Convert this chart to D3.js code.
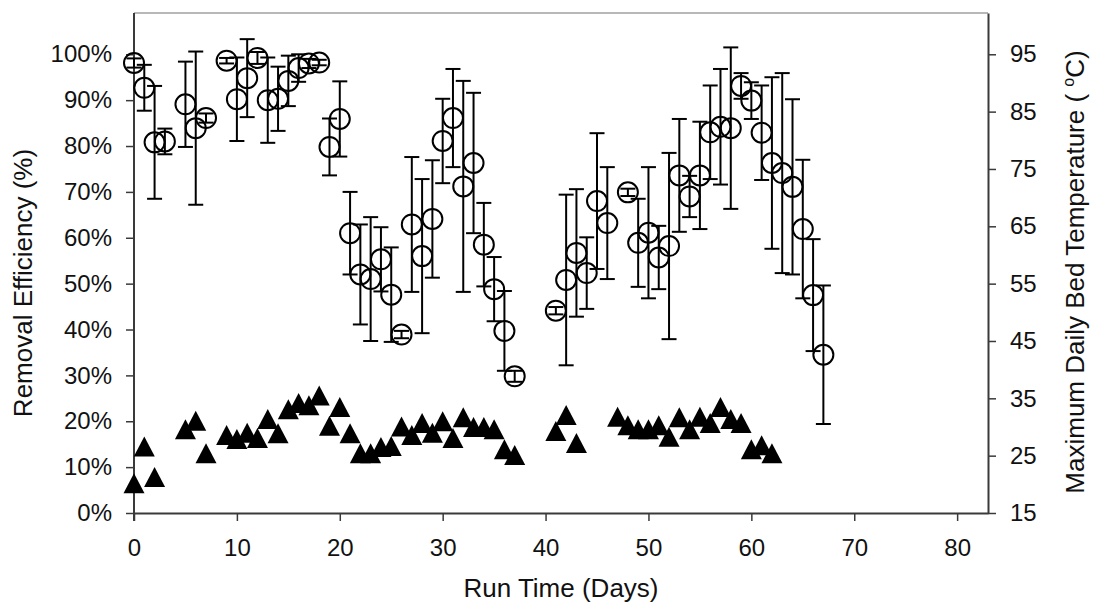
<!DOCTYPE html>
<html>
<head>
<meta charset="utf-8">
<script src="https://cdn.jsdelivr.net/npm/d3@7"></script>
<style>
  body { margin: 0; background: #fff; }
  svg text { font-family: "Liberation Sans", Arial, sans-serif; fill: #111; }
</style>
</head>
<body>
<svg id="chart"></svg>
<script>
// Chart size
const width = 1093;
const height = 605;

// Removal efficiency (%) - mean and standard deviation per run day
const effDays = [0, 1, 2, 3, 5, 6, 7, 9, 10, 11, 12, 13, 14, 15, 16, 17, 18, 19, 20, 21,
    22, 23, 24, 25, 26, 27, 28, 29, 30, 31, 32, 33, 34, 35, 36, 37, 41, 42, 43, 44,
    45, 46, 48, 49, 50, 51, 52, 53, 54, 55, 56, 57, 58, 59, 60, 61, 62, 63, 64, 65, 66, 67];
const effMean = [98.1, 92.7, 80.8, 81.0, 89.1, 83.9, 86.1, 98.6, 90.2, 94.8, 99.2, 90.0, 90.3, 94.2, 97.0, 98.0, 98.2, 79.8, 85.9, 61.0,
    52.0, 51.0, 55.3, 47.6, 38.9, 62.9, 56.0, 64.1, 81.1, 86.1, 71.2, 76.3, 58.5, 48.8, 39.7, 29.8, 44.1, 50.8, 56.7, 52.3,
    68.0, 63.2, 69.9, 58.9, 61.1, 55.7, 58.2, 73.6, 69.0, 73.6, 83.0, 84.2, 83.9, 93.1, 89.9, 82.9, 76.3, 74.1, 71.1, 61.9, 47.5, 34.5];
const effSd = [1.0, 5.0, 12.3, 2.8, 9.3, 16.7, 1.0, 0.6, 9.1, 8.5, 1.3, 9.3, 7.0, 5.5, 3.0, 1.0, 0.6, 6.2, 8.2, 9.0,
    10.9, 13.5, 7.0, 10.3, 0.8, 14.7, 16.8, 12.8, 9.2, 10.7, 23.0, 15.3, 9.1, 7.0, 8.7, 1.2, 0.8, 18.6, 13.9, 7.8,
    14.8, 12.2, 0.8, 9.6, 14.3, 6.9, 20.3, 12.3, 4.5, 11.7, 10.2, 12.6, 17.6, 2.8, 4.0, 10.3, 18.7, 21.8, 19.1, 15.1, 12.2, 15.1];

// Maximum daily bed temperature (deg C)
const tempDays = [0, 1, 2, 5, 6, 7, 9, 10, 11, 12, 13, 14, 15, 16, 17, 18, 19, 20, 21, 22,
    23, 24, 25, 26, 27, 28, 29, 30, 31, 32, 33, 34, 35, 36, 37, 41, 42, 43, 47, 48,
    49, 50, 51, 52, 53, 54, 55, 56, 57, 58, 59, 60, 61, 62];
const tempMax = [20.2, 26.6, 21.3, 29.6, 31.1, 25.4, 28.6, 27.9, 29.0, 28.1, 31.4, 28.9, 33.1, 34.2, 33.8, 35.5, 30.2, 33.5, 28.9, 25.4,
    25.4, 26.5, 26.7, 30.1, 28.6, 30.7, 29.0, 31.0, 28.1, 31.7, 30.0, 30.0, 29.6, 26.1, 25.1, 29.3, 32.1, 27.2, 31.8, 30.3,
    29.6, 29.6, 30.3, 28.3, 31.7, 29.6, 31.8, 30.7, 33.5, 31.4, 30.7, 26.1, 26.8, 25.4];

// Tick values
const xTicks = [0, 10, 20, 30, 40, 50, 60, 70, 80];
const yTicks = [0, 10, 20, 30, 40, 50, 60, 70, 80, 90, 100];
const tTicks = [15, 25, 35, 45, 55, 65, 75, 85, 95];

// Plot area
const plot = { left: 134, right: 988, top: 13, bottom: 513 };

const svg = d3.select("#chart")
    .attr("width", width)
    .attr("height", height);

// Scales
const x = d3.scaleLinear().domain([0, 83]).range([plot.left, plot.right]);
const y = d3.scaleLinear().domain([0, 109]).range([plot.bottom, plot.top]);
// right axis: 15..95 lines up with 0..100 %
const yT = d3.scaleLinear().domain([15, 15 + 0.8 * 109]).range([plot.bottom, plot.top]);

const tickFont = 24;
const titleFont = 26;

// Top frame line
svg.append("line")
    .attr("x1", plot.left).attr("x2", plot.right)
    .attr("y1", plot.top).attr("y2", plot.top)
    .attr("stroke", "#a0a0a0").attr("stroke-width", 1.5);

// Axes
const xAxis = svg.append("g")
    .attr("transform", `translate(0,${plot.bottom})`)
    .call(d3.axisBottom(x).tickValues(xTicks).tickSize(8).tickPadding(18).tickSizeOuter(0));

const yAxis = svg.append("g")
    .attr("transform", `translate(${plot.left},0)`)
    .call(d3.axisLeft(y).tickValues(yTicks).tickSize(8).tickPadding(14).tickSizeOuter(0)
        .tickFormat(d => d + "%"));

const tAxis = svg.append("g")
    .attr("transform", `translate(${plot.right},0)`)
    .call(d3.axisRight(yT).tickValues(tTicks).tickSize(8).tickPadding(14).tickSizeOuter(0));

[xAxis, yAxis, tAxis].forEach(g => {
    g.select(".domain").attr("stroke", "#3a3a3a").attr("stroke-width", 2);
    g.selectAll(".tick line").attr("stroke", "#3a3a3a").attr("stroke-width", 1.5);
    g.selectAll(".tick text")
        .attr("font-size", tickFont)
        .attr("font-family", "Liberation Sans, Arial, sans-serif")
        .attr("fill", "#111");
});
// left axis line reaches a bit below the x axis, like the reference
yAxis.select(".domain").attr("d", `M0,${plot.top}V${plot.bottom + 8}`);

// Error bars
const capHalf = 7.5;
const bars = svg.append("g")
    .attr("stroke", "#000")
    .attr("stroke-width", 2)
    .attr("fill", "none");

effDays.forEach((d, i) => {
    const cx = x(d);
    const hi = y(effMean[i] + effSd[i]);
    const lo = y(effMean[i] - effSd[i]);
    bars.append("line").attr("x1", cx).attr("x2", cx).attr("y1", hi).attr("y2", lo);
    bars.append("line").attr("x1", cx - capHalf).attr("x2", cx + capHalf).attr("y1", hi).attr("y2", hi);
    bars.append("line").attr("x1", cx - capHalf).attr("x2", cx + capHalf).attr("y1", lo).attr("y2", lo);
});

// Open circles: removal efficiency
svg.append("g")
    .selectAll("circle")
    .data(effDays)
    .join("circle")
    .attr("cx", d => x(d))
    .attr("cy", (d, i) => y(effMean[i]))
    .attr("r", 10)
    .attr("fill", "none")
    .attr("stroke", "#000")
    .attr("stroke-width", 2);

// Filled triangles: max bed temperature
const triW = 21, triH = 20;
const triangle = `M0,${-triH / 2}L${triW / 2},${triH / 2}L${-triW / 2},${triH / 2}Z`;
svg.append("g")
    .selectAll("path")
    .data(tempDays)
    .join("path")
    .attr("d", triangle)
    .attr("transform", (d, i) => `translate(${x(d)},${yT(tempMax[i])})`)
    .attr("fill", "#000");

// Axis titles
svg.append("text")
    .attr("x", (plot.left + plot.right) / 2)
    .attr("y", 597)
    .attr("text-anchor", "middle")
    .attr("font-size", titleFont)
    .text("Run Time (Days)");

svg.append("text")
    .attr("transform", `translate(32,283) rotate(-90)`)
    .attr("text-anchor", "middle")
    .attr("font-size", titleFont)
    .text("Removal Efficiency (%)");

const rightTitle = svg.append("text")
    .attr("transform", `translate(1084,272) rotate(-90)`)
    .attr("text-anchor", "middle")
    .attr("font-size", titleFont);
rightTitle.append("tspan").text("Maximum Daily Bed Temperature ( ");
rightTitle.append("tspan").attr("font-size", 16).attr("dy", -10).text("o");
rightTitle.append("tspan").attr("dy", 10).text("C)");
</script>
</body>
</html>
